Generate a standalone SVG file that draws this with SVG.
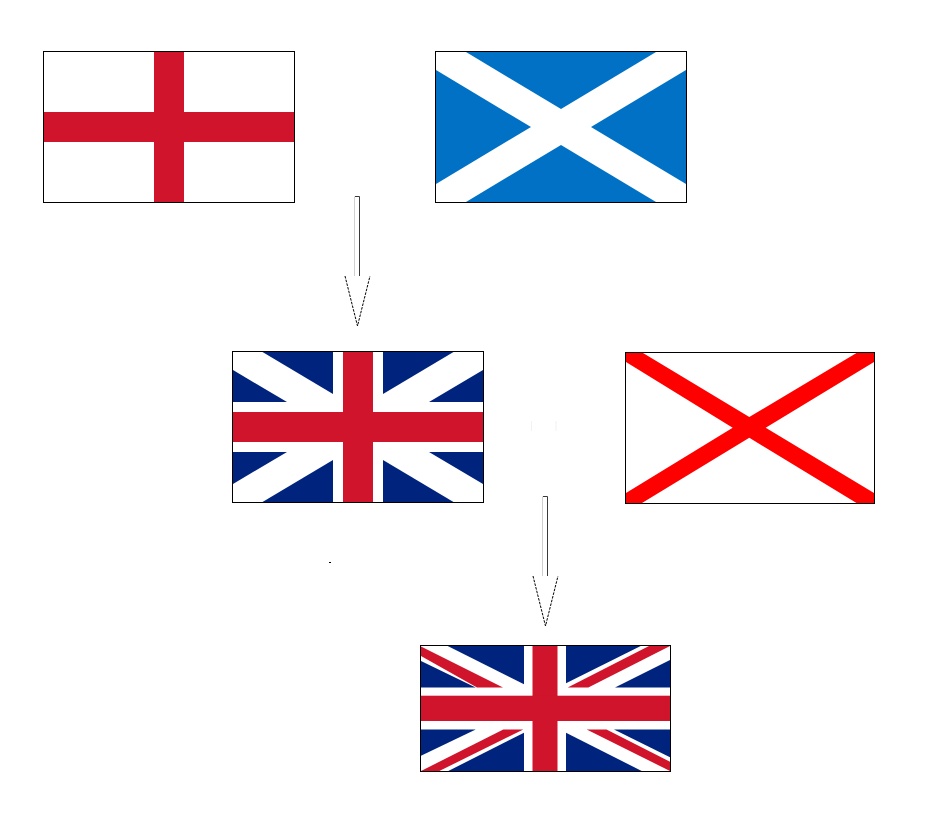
<svg xmlns="http://www.w3.org/2000/svg" width="944" height="834" viewBox="0 0 944 834">
<style>
.frame{fill:none;stroke:#000;stroke-width:1}
.bg{fill:#fff}
.red{fill:#cf142b}
.navy{fill:#00247d}
.blue{fill:#0171c5}
.bright{fill:#f00}
.light{fill:none;stroke:#cfcfcf;stroke-width:1}
.dark{fill:none;stroke:#3a3a3a;stroke-width:1}
.head{fill:none;stroke:#000;stroke-width:1;stroke-dasharray:2.6 1.2}
.faint{fill:#f2f2f2}
</style>
<rect width="944" height="834" fill="#fff"/>
<g id="england">
<rect class="bg" x="43.5" y="51.5" width="251" height="151"/>
<rect class="red" x="154" y="52" width="30" height="150"/>
<rect class="red" x="44" y="112" width="250" height="30"/>
<rect class="frame" x="43.5" y="51.5" width="251" height="151"/>
</g>
<g id="scotland">
<rect class="bg" x="435.5" y="51.5" width="251" height="151"/>
<polygon class="blue" points="466,52 656,52 561,109"/>
<polygon class="blue" points="436,70 531,127 436,184"/>
<polygon class="blue" points="686,70 591,127 686,184"/>
<polygon class="blue" points="466,202 561,145 656,202"/>
<rect class="frame" x="435.5" y="51.5" width="251" height="151"/>
</g>
<g id="union-1606">
<rect class="bg" x="232.5" y="351.5" width="251" height="151"/>
<polygon class="navy" points="262.5,352 333,394 333,352"/>
<polygon class="navy" points="233,370 287,402 233,402"/>
<polygon class="navy" points="453.5,352 383,394 383,352"/>
<polygon class="navy" points="483,370 429,402 483,402"/>
<polygon class="navy" points="233,484 287,452 233,452"/>
<polygon class="navy" points="262.5,502 333,460 333,502"/>
<polygon class="navy" points="483,484 429,452 483,452"/>
<polygon class="navy" points="453.5,502 383,460 383,502"/>
<rect class="red" x="343" y="352" width="30" height="150"/>
<rect class="red" x="233" y="412" width="250" height="30"/>
<rect class="frame" x="232.5" y="351.5" width="251" height="151"/>
</g>
<g id="st-patrick">
<rect class="bg" x="625.5" y="352.5" width="249" height="151"/>
<polygon class="bright" points="626,353 643,353 749.3,417 856.5,353 874,353 874,362 765.7,427.7 874,493 874,503 856.5,503 749.3,437.7 642,503 626,503 626,493 732.7,427.7 626,362"/>
<rect class="frame" x="625.5" y="352.5" width="249" height="151"/>
</g>
<g id="union-1801">
<rect class="bg" x="420.5" y="645.5" width="250" height="126"/>
<polygon class="navy" points="447.7,646 524,684.3 524,646"/>
<polygon class="navy" points="421,661 475.7,687.5 421,687.5"/>
<polygon class="navy" points="566,683.3 640.7,646 566,646"/>
<polygon class="navy" points="670,660 615,687.5 670,687.5"/>
<polygon class="navy" points="421,755.7 475.7,729.5 421,729.5"/>
<polygon class="navy" points="448.3,771 524,732.7 524,771"/>
<polygon class="navy" points="614,729.5 670,729.5 670,757.3"/>
<polygon class="navy" points="566,732.7 641.7,771 566,771"/>
<polygon class="red" points="421,646.5 421,656 477,687.5 503,687.5"/>
<polygon class="red" points="649,646 670,646 588.3,687.5 567.7,687.5"/>
<polygon class="red" points="421,771 439.3,771 523.3,729.5 503.3,729.5"/>
<polygon class="red" points="586.7,729.5 606.5,729.5 670,761.7 670,771"/>
<rect class="red" x="532.5" y="646" width="25" height="125"/>
<rect class="red" x="421" y="695.7" width="249" height="25.3"/>
<rect class="frame" x="420.5" y="645.5" width="250" height="126"/>
</g>
<g id="connectors">
<g id="arrow-1">
<path class="light" d="M354.5 196.5V276"/>
<path class="dark" d="M355 196.5H359.5V276"/>
<path class="head" d="M345 276L357.5 326L370 276"/>
</g>
<g id="arrow-2">
<path class="light" d="M542.5 496.5V576"/>
<path class="dark" d="M543 496.5H547.5V576"/>
<path class="head" d="M533 576L545.5 626L558 576"/>
</g>
<rect class="faint" x="531" y="421" width="1" height="10"/>
<rect class="faint" x="555.5" y="421" width="1" height="10"/>
<rect x="329" y="562" width="2" height="1" fill="#000"/>
</g>
</svg>
